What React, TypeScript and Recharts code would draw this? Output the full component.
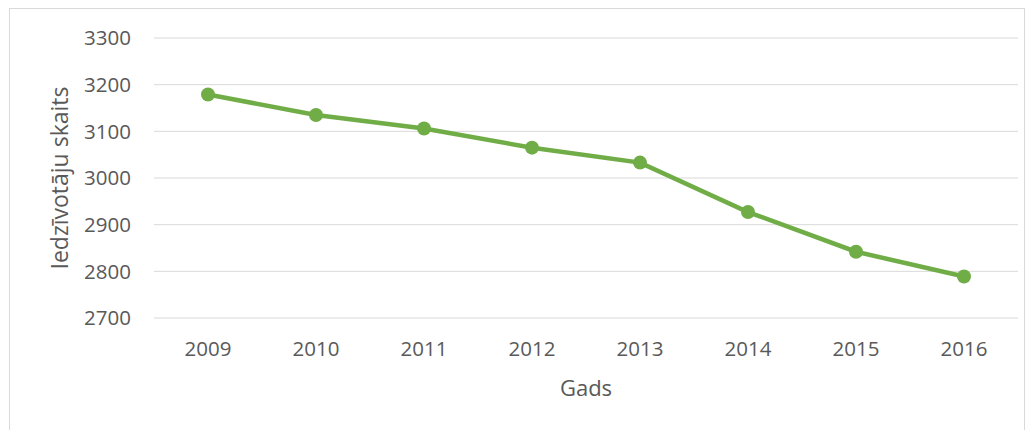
import { CartesianGrid, Label, Line, LineChart, XAxis, YAxis } from "recharts";

const years = ["2009", "2010", "2011", "2012", "2013", "2014", "2015", "2016"];
const population = [3179, 3135, 3106, 3065, 3033, 2927, 2842, 2789];
const yTicks = [2700, 2800, 2900, 3000, 3100, 3200, 3300];

const data = years.map((year, i) => ({ year, value: population[i] }));

const font = '"Open Sans", sans-serif';
const textColor = "#595959";
const green = "#70ad47";

export default function App() {
  return (
    <div
      style={{
        position: "relative",
        marginLeft: 1,
        width: 1014,
        height: 430,
        border: "1px solid #d9d9d9",
        fontFamily: font,
      }}
    >
      <div style={{ position: "absolute", left: -2, top: -1 }}>
        <LineChart
          width={1017}
          height={420}
          data={data}
          margin={{ top: 30, right: 7, left: 0, bottom: 30 }}
        >
          <CartesianGrid vertical={false} stroke="#d9d9d9" strokeWidth={1} />
          <XAxis
            dataKey="year"
            axisLine={false}
            tickLine={false}
            tickMargin={17}
            height={80}
            padding={{ left: 54, right: 54 }}
            tick={{ fill: textColor, fontSize: 20.5, fontFamily: font }}
          >
            <Label
              value="Gads"
              position="insideBottom"
              offset={2}
              style={{ fill: textColor, fontSize: 22, fontFamily: font }}
            />
          </XAxis>
          <YAxis
            domain={[2700, 3300]}
            ticks={yTicks}
            axisLine={false}
            tickLine={false}
            tickMargin={17}
            width={146}
            tick={{ fill: textColor, fontSize: 20.5, fontFamily: font }}
          >
            <Label
              value="Iedzīvotāju skaits"
              angle={-90}
              position="insideLeft"
              offset={52}
              style={{
                fill: textColor,
                fontSize: 23,
                fontFamily: font,
                textAnchor: "middle",
              }}
            />
          </YAxis>
          <Line
            type="linear"
            dataKey="value"
            stroke={green}
            strokeWidth={4.5}
            dot={{ r: 7, fill: green, stroke: green, strokeWidth: 0 }}
            activeDot={false}
            isAnimationActive={false}
          />
        </LineChart>
      </div>
    </div>
  );
}
